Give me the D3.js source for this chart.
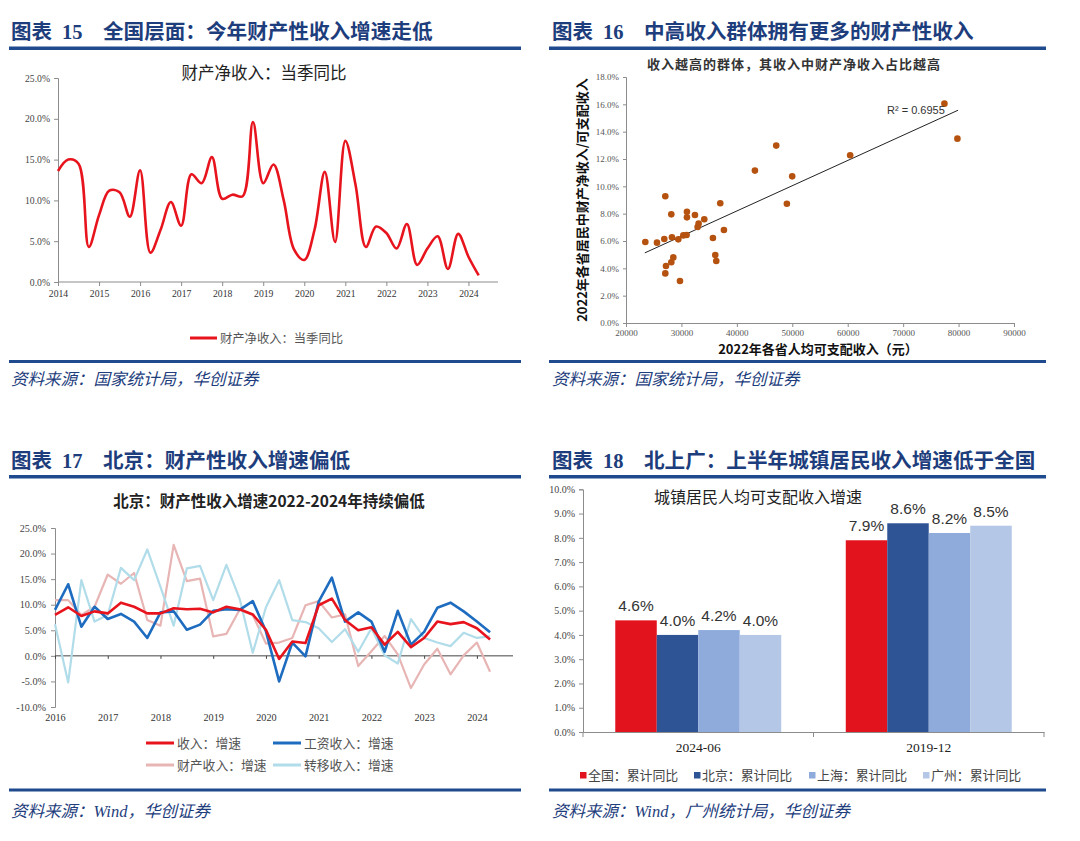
<!DOCTYPE html>
<html><head><meta charset="utf-8">
<script src="https://cdn.jsdelivr.net/npm/d3@7/dist/d3.min.js"></script>
<style>body{margin:0;background:#fff}svg{display:block}</style>
</head><body>
<svg id="c" width="1080" height="841"></svg>
<script>
// ---------------- DATA ----------------
// Panel 15: 财产净收入 当季同比 (%), quarterly 2014Q1-2024Q2
const p1Quarters = ["2014Q1","2014Q2","2014Q3","2014Q4","2015Q1","2015Q2","2015Q3","2015Q4","2016Q1","2016Q2","2016Q3","2016Q4","2017Q1","2017Q2","2017Q3","2017Q4","2018Q1","2018Q2","2018Q3","2018Q4","2019Q1","2019Q2","2019Q3","2019Q4","2020Q1","2020Q2","2020Q3","2020Q4","2021Q1","2021Q2","2021Q3","2021Q4","2022Q1","2022Q2","2022Q3","2022Q4","2023Q1","2023Q2","2023Q3","2023Q4","2024Q1","2024Q2"];
const p1Values = [13.6,15.0,14.5,4.3,8.2,11.2,11.0,8.0,13.7,3.6,6.4,9.8,6.9,13.2,12.1,15.3,10.2,10.7,10.5,19.6,12.1,14.4,10.0,4.0,2.7,6.4,13.5,4.9,17.3,11.9,4.3,6.8,6.0,4.1,7.1,2.1,4.1,5.6,1.6,5.9,3.1,0.8];
const p1YTicks = [0,5,10,15,20,25];
const p1XTicks = [2014,2015,2016,2017,2018,2019,2020,2021,2022,2023,2024];

// Panel 16: scatter 2022 各省人均可支配收入 (元) vs 财产净收入占比 (%)
const p2Income = [23485,25589,26910,27090,27211,27090,28172,28292,28172,28533,29434,29735,30336,30937,30997,30997,32439,32920,33100,34121,35684,36104,36285,37006,37667,43255,47101,49024,49985,60440,77446,79790];
const p2Share  = [5.93,5.88,6.15,9.27,4.17,3.63,7.95,6.27,4.44,4.80,6.12,3.07,6.41,6.44,8.14,7.73,7.90,7.02,7.27,7.59,6.22,4.98,4.54,8.76,6.80,11.15,12.98,8.73,10.73,12.27,16.05,13.49];
const p2TrendIntercept = 0.81, p2TrendSlope = 0.0001847, p2TrendRange = [23400, 79900];
const p2R2Label = "R² = 0.6955";
const p2XTicks = [20000,30000,40000,50000,60000,70000,80000,90000];
const p2YTicks = [0,2,4,6,8,10,12,14,16,18];

// Panel 17: 北京 quarterly growth (%), 2016Q1-2024Q2
const p3Quarters = ["2016Q1","2016Q2","2016Q3","2016Q4","2017Q1","2017Q2","2017Q3","2017Q4","2018Q1","2018Q2","2018Q3","2018Q4","2019Q1","2019Q2","2019Q3","2019Q4","2020Q1","2020Q2","2020Q3","2020Q4","2021Q1","2021Q2","2021Q3","2021Q4","2022Q1","2022Q2","2022Q3","2022Q4","2023Q1","2023Q2","2023Q3","2023Q4","2024Q1","2024Q2"];
const p3Income   = [8.0,9.5,7.8,8.7,8.3,10.4,9.6,8.3,8.3,9.3,9.1,9.2,8.5,9.6,9.1,8.1,5.1,-0.6,2.8,2.5,9.9,11.2,7.0,5.0,5.6,2.2,4.7,1.7,3.5,6.7,6.2,6.6,5.4,3.2];
const p3Wage     = [9.0,14.0,5.7,9.6,7.2,8.2,6.7,3.5,8.5,8.7,5.1,6.1,8.8,9.1,9.0,10.7,4.8,-5.0,2.6,-0.1,10.6,15.3,6.7,8.5,6.7,0.8,8.8,2.2,4.7,9.4,10.4,8.7,6.7,4.6];
const p3Property = [10.9,10.9,8.0,9.6,15.9,14.1,16.2,7.0,5.9,21.7,14.6,15.1,3.8,4.3,9.0,8.0,2.4,2.6,3.5,9.9,10.7,7.5,8.1,-2.0,0.9,3.9,0.3,-6.3,-1.7,1.4,-3.6,0.1,2.6,-3.1];
const p3Transfer = [6.2,-5.2,14.8,6.7,8.0,17.2,14.8,20.8,13.5,5.9,17.1,17.6,10.9,17.8,11.2,0.6,9.5,14.8,7.0,6.6,5.4,2.7,5.2,0.8,5.4,0.1,-1.5,7.2,3.5,2.6,1.9,4.5,3.5,3.8];
const p3SeriesNames = ["收入：增速","工资收入：增速","财产收入：增速","转移收入：增速"];
const p3YTicks = [-10,-5,0,5,10,15,20,25];
const p3XTicks = [2016,2017,2018,2019,2020,2021,2022,2023,2024];

// Panel 18: 城镇居民人均可支配收入增速 (%)
const p4Categories = ["2024-06","2019-12"];
const p4SeriesNames = ["全国：累计同比","北京：累计同比","上海：累计同比","广州：累计同比"];
const p4National  = [4.6,7.9];
const p4Beijing   = [4.0,8.6];
const p4Shanghai  = [4.2,8.2];
const p4Guangzhou = [4.0,8.5];
const p4YTicks = [0,1,2,3,4,5,6,7,8,9,10];

// ---------------- STYLE ----------------
const CJK = '"Noto Sans CJK SC","Noto Sans CJK JP",sans-serif';
const SERIF = '"Liberation Serif","Times New Roman",serif';
const SANS = '"Liberation Sans",Arial,sans-serif';
const HEAD = '#1d3d7c', RULE = '#1f4a8d';
const AXIS = '#8c8c8c';

const svg = d3.select('#c');
svg.append('rect').attr('width',1080).attr('height',841).attr('fill','#fff');

const qToYear = q => +q.slice(0,4) + (+q.slice(5)-1)/4;
const pct1 = d => d.toFixed(1) + '%';

function header(x, y, num, title, rx1, rx2, ry) {
  const t = svg.append('text').attr('x', x).attr('y', y).attr('fill', HEAD)
    .attr('font-weight', 'bold').attr('font-size', 20.5);
  t.append('tspan').attr('font-family', CJK).text('图表');
  t.append('tspan').attr('font-family', SERIF).attr('x', x + 51).text(num);
  svg.append('text').attr('x', x + 92).attr('y', y).attr('fill', HEAD)
    .attr('font-weight', 'bold').attr('font-size', 20.6).attr('font-family', CJK).text(title);
  svg.append('rect').attr('x', rx1).attr('y', ry).attr('width', rx2 - rx1).attr('height', 3.5).attr('fill', RULE);
}
function footer(x, y, text, rx1, rx2, ry) {
  svg.append('rect').attr('x', rx1).attr('y', ry).attr('width', rx2 - rx1).attr('height', 3).attr('fill', RULE);
  svg.append('text').attr('x', x).attr('y', y).attr('fill', HEAD).attr('font-size', 16.5)
    .attr('font-style', 'italic').attr('font-family', SERIF + ',' + CJK).text(text);
}
function styleAxis(g, fs, fam, col) {
  g.select('.domain').attr('stroke', AXIS);
  g.selectAll('.tick line').attr('stroke', AXIS);
  g.selectAll('.tick text').attr('font-size', fs).attr('font-family', fam).attr('fill', col || '#333');
}

// ---------------- PANEL 15 ----------------
header(11, 39, '15', '全国层面：今年财产性收入增速走低', 9, 521, 46.5);
footer(11, 385, '资料来源：国家统计局，华创证券', 9, 521, 360);
{
  const x = d3.scaleLinear().domain([2014, 2024.72]).range([58, 498]);
  const y = d3.scaleLinear().domain([0, 25]).range([282, 78]);
  const gy = svg.append('g').attr('transform', 'translate(58,0)')
    .call(d3.axisLeft(y).tickValues(p1YTicks).tickSize(4).tickPadding(4).tickFormat(pct1));
  styleAxis(gy, 9.7, SERIF, '#444');
  const gx = svg.append('g').attr('transform', 'translate(0,282)')
    .call(d3.axisBottom(x).tickValues(p1XTicks).tickSize(4).tickPadding(4).tickFormat(d3.format('d')));
  styleAxis(gx, 9.7, SERIF, '#333');
  gx.select('.domain').attr('d', `M58,0H${x.range()[1]}`);
  const line = d3.line().x((d,i) => x(qToYear(p1Quarters[i]))).y(d => y(d)).curve(d3.curveCatmullRom.alpha(0.5));
  svg.append('path').datum(p1Values).attr('d', line).attr('fill', 'none')
    .attr('stroke', '#e8141d').attr('stroke-width', 2.6).attr('stroke-linejoin', 'round');
  svg.append('text').attr('x', 264).attr('y', 79).attr('text-anchor', 'middle')
    .attr('font-family', CJK).attr('font-size', 16.5).attr('fill', '#222').text('财产净收入：当季同比');
  svg.append('line').attr('x1', 190).attr('x2', 217).attr('y1', 338).attr('y2', 338)
    .attr('stroke', '#e8141d').attr('stroke-width', 3);
  svg.append('text').attr('x', 220).attr('y', 342.5).attr('font-family', CJK).attr('font-size', 12.3)
    .attr('fill', '#555').text('财产净收入：当季同比');
}

// ---------------- PANEL 16 ----------------
header(552, 39, '16', '中高收入群体拥有更多的财产性收入', 549, 1046, 46.5);
footer(552, 385, '资料来源：国家统计局，华创证券', 549, 1046, 360);
{
  const x = d3.scaleLinear().domain([20000, 90000]).range([626, 1014]);
  const y = d3.scaleLinear().domain([0, 18]).range([323, 77]);
  const gy = svg.append('g').attr('transform', 'translate(626,0)')
    .call(d3.axisLeft(y).tickValues(p2YTicks).tickSize(3).tickPadding(4).tickFormat(pct1));
  styleAxis(gy, 9, SERIF, '#555');
  const gx = svg.append('g').attr('transform', 'translate(0,323)')
    .call(d3.axisBottom(x).tickValues(p2XTicks).tickSize(4).tickPadding(3).tickFormat(d3.format('d')));
  styleAxis(gx, 9, SERIF, '#555');
  svg.append('line')
    .attr('x1', x(p2TrendRange[0])).attr('y1', y(p2TrendIntercept + p2TrendSlope * p2TrendRange[0]))
    .attr('x2', x(p2TrendRange[1])).attr('y2', y(p2TrendIntercept + p2TrendSlope * p2TrendRange[1]))
    .attr('stroke', '#222').attr('stroke-width', 1);
  svg.append('g').selectAll('circle').data(p2Income).join('circle')
    .attr('cx', d => x(d)).attr('cy', (d,i) => y(p2Share[i])).attr('r', 3.3).attr('fill', '#b5520f');
  svg.append('text').attr('x', 887).attr('y', 114).attr('font-family', SANS).attr('font-size', 11)
    .attr('fill', '#333').text(p2R2Label);
  svg.append('text').attr('x', 794).attr('y', 69).attr('text-anchor', 'middle').attr('font-family', CJK)
    .attr('font-size', 13).attr('letter-spacing', 1).attr('font-weight', 'bold').attr('fill', '#333')
    .text('收入越高的群体，其收入中财产净收入占比越高');
  svg.append('text').attr('x', 818).attr('y', 354).attr('text-anchor', 'middle').attr('font-family', CJK)
    .attr('font-size', 13).attr('font-weight', 'bold').attr('fill', '#111').text('2022年各省人均可支配收入（元）');
  svg.append('text').attr('transform', 'translate(587,200) rotate(-90)').attr('text-anchor', 'middle')
    .attr('font-family', CJK).attr('font-size', 13).attr('font-weight', 'bold').attr('fill', '#111')
    .text('2022年各省居民中财产净收入/可支配收入');
}

// ---------------- PANEL 17 ----------------
header(11, 468, '17', '北京：财产性收入增速偏低', 9, 521, 475);
footer(11, 817, '资料来源：Wind，华创证券', 9, 521, 788.5);
{
  const x = d3.scaleLinear().domain([2016, 2024.685]).range([55, 513]);
  const y = d3.scaleLinear().domain([-10, 25]).range([707, 528]);
  const gy = svg.append('g').attr('transform', 'translate(55,0)')
    .call(d3.axisLeft(y).tickValues(p3YTicks).tickSize(4).tickPadding(5).tickFormat(pct1));
  styleAxis(gy, 10.2, SERIF, '#444');
  const g0 = svg.append('g').attr('transform', `translate(0,${y(0)})`)
    .call(d3.axisBottom(x).tickValues(p3XTicks).tickSize(3).tickFormat(''));
  g0.select('.domain').attr('stroke', '#444').attr('d', `M55,0H513`);
  g0.selectAll('.tick line').attr('stroke', '#444');
  const gl = svg.append('g').attr('transform', `translate(0,${y(-10)})`)
    .call(d3.axisBottom(x).tickValues(p3XTicks).tickSize(0).tickPadding(7).tickFormat(d3.format('d')));
  gl.select('.domain').remove();
  styleAxis(gl, 10.2, SERIF, '#333');
  const series = [
    {v: p3Property, c: '#e8b5b5', w: 2.2},
    {v: p3Transfer, c: '#b1dce9', w: 2.2},
    {v: p3Wage, c: '#1e6cbf', w: 2.6},
    {v: p3Income, c: '#e8141d', w: 2.6}
  ];
  const line = d3.line().x((d,i) => x(qToYear(p3Quarters[i]))).y(d => y(d));
  series.forEach(s => svg.append('path').datum(s.v).attr('d', line).attr('fill', 'none')
    .attr('stroke', s.c).attr('stroke-width', s.w).attr('stroke-linejoin', 'round'));
  svg.append('text').attr('x', 269).attr('y', 507).attr('text-anchor', 'middle').attr('font-family', CJK)
    .attr('font-size', 15.5).attr('font-weight', 'bold').attr('fill', '#222')
    .text('北京：财产性收入增速2022-2024年持续偏低');
  const leg = [
    {n: p3SeriesNames[0], c: '#e8141d', x: 146, y: 743},
    {n: p3SeriesNames[1], c: '#1e6cbf', x: 273, y: 743},
    {n: p3SeriesNames[2], c: '#e8b5b5', x: 146, y: 765},
    {n: p3SeriesNames[3], c: '#b1dce9', x: 273, y: 765}
  ];
  leg.forEach(l => {
    svg.append('line').attr('x1', l.x).attr('x2', l.x + 28).attr('y1', l.y).attr('y2', l.y)
      .attr('stroke', l.c).attr('stroke-width', 3);
    svg.append('text').attr('x', l.x + 31).attr('y', l.y + 4.5).attr('font-family', CJK)
      .attr('font-size', 12.8).attr('fill', '#555').text(l.n);
  });
}

// ---------------- PANEL 18 ----------------
header(552, 468, '18', '北上广：上半年城镇居民收入增速低于全国', 549, 1046, 475);
footer(552, 817, '资料来源：Wind，广州统计局，华创证券', 549, 1046, 788.5);
{
  const x0 = d3.scaleBand().domain(p4Categories).range([583, 1044]).paddingInner(0.28).paddingOuter(0.14);
  const x1 = d3.scaleBand().domain(p4SeriesNames).range([0, x0.bandwidth()]);
  const y = d3.scaleLinear().domain([0, 10]).range([732, 489.3]);
  const colors = ['#e3131d', '#2e5495', '#8eabdc', '#b4c7e7'];
  const seriesVals = [p4National, p4Beijing, p4Shanghai, p4Guangzhou];
  const gy = svg.append('g').attr('transform', 'translate(583,0)')
    .call(d3.axisLeft(y).tickValues(p4YTicks).tickSize(4).tickPadding(4).tickFormat(pct1));
  styleAxis(gy, 10, SERIF, '#444');
  const gx = svg.append('g').attr('transform', 'translate(0,732)')
    .call(d3.axisBottom(x0).tickSize(0).tickFormat(''));
  gx.select('.domain').attr('stroke', AXIS);
  svg.append('g').selectAll('line').data([583, 813.5, 1044]).join('line')
    .attr('x1', d => d).attr('x2', d => d).attr('y1', 732).attr('y2', 737).attr('stroke', AXIS);
  p4Categories.forEach((cat, ci) => {
    seriesVals.forEach((vals, si) => {
      const bx = x0(cat) + x1(p4SeriesNames[si]);
      svg.append('rect').attr('x', bx).attr('y', y(vals[ci])).attr('width', x1.bandwidth())
        .attr('height', y(0) - y(vals[ci])).attr('fill', colors[si]);
      svg.append('text').attr('x', bx + x1.bandwidth() / 2).attr('y', y(vals[ci]) - 9)
        .attr('text-anchor', 'middle').attr('font-family', SANS).attr('font-size', 15.5)
        .attr('fill', '#333').text(vals[ci].toFixed(1) + '%');
    });
    svg.append('text').attr('x', x0(cat) + x0.bandwidth() / 2).attr('y', 752).attr('text-anchor', 'middle')
      .attr('font-family', SERIF).attr('font-size', 13.5).attr('fill', '#222').text(cat);
  });
  svg.append('text').attr('x', 758).attr('y', 503).attr('text-anchor', 'middle').attr('font-family', CJK)
    .attr('font-size', 16).attr('fill', '#222').text('城镇居民人均可支配收入增速');
  const legX = [580, 694, 809, 923];
  p4SeriesNames.forEach((n, i) => {
    svg.append('rect').attr('x', legX[i]).attr('y', 772).attr('width', 6.5).attr('height', 6.5).attr('fill', colors[i]);
    svg.append('text').attr('x', legX[i] + 8).attr('y', 779.5).attr('font-family', CJK)
      .attr('font-size', 12.9).attr('fill', '#444').text(n);
  });
}
</script>
</body></html>
